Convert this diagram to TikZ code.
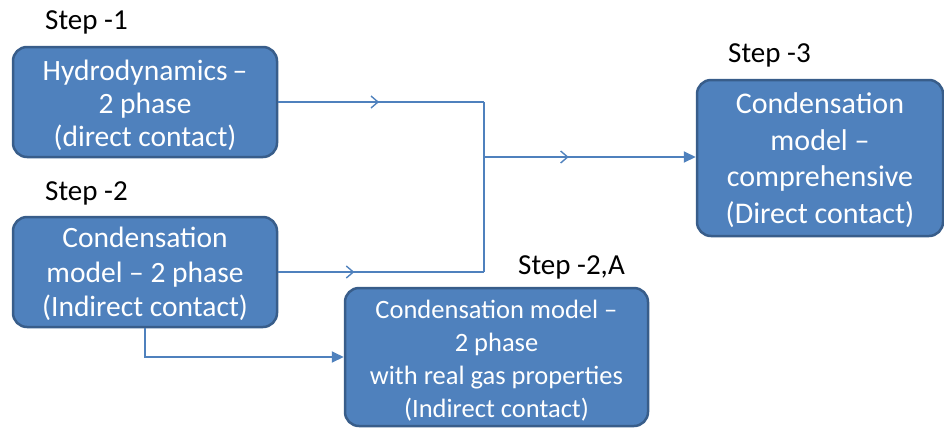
\documentclass[tikz,border=0pt]{standalone}
\usepackage{fontspec}
\setmainfont{Carlito}
\usetikzlibrary{arrows.meta,decorations.markings}
\definecolor{boxfill}{HTML}{4F81BD}
\definecolor{boxedge}{HTML}{385D8A}
\definecolor{linec}{HTML}{4F81BD}
\begin{document}
\begin{tikzpicture}[x=1pt,y=-1pt,
  stepbox/.style={draw=boxedge,line width=2.5pt,fill=boxfill,rounded corners=14pt,text=white,align=center,inner sep=0pt},
  steplabel/.style={anchor=west,font=\fontsize{29}{33}\selectfont,inner sep=0pt},
  conn/.style={draw=linec,line width=2pt},
  midarrow/.style={postaction={decorate},decoration={markings,mark=at position #1 with {\arrow[linec,line width=1.4pt]{Straight Barb[length=7pt,width=12pt]}}}},
  endarrow/.style={-{Triangle[length=12pt,width=11pt]}}]
\useasboundingbox (0,0) rectangle (944,429);
\node[stepbox,minimum width=264pt,minimum height=110pt,font=\fontsize{29.5}{33}\selectfont] (b1) at (145,102) {\rule{0pt}{28pt}Hydrodynamics\,–\\2 phase\\(direct contact)};
\node[stepbox,minimum width=264pt,minimum height=110pt,font=\fontsize{29.5}{34.5}\selectfont] (b2) at (145,272) {\rule{0pt}{25pt}Condensation\\model – 2 phase\\(Indirect contact)};
\node[stepbox,minimum width=246pt,minimum height=156pt,font=\fontsize{30}{36.5}\selectfont] (b3) at (820,158) {\rule{0pt}{25pt}Condensation\\model –\\comprehensive\\(Direct contact)};
\node[stepbox,minimum width=303pt,minimum height=138pt,font=\fontsize{26.5}{33}\selectfont] (b4) at (496.5,357) {\rule{0pt}{26pt}Condensation model –\\2 phase\\with real gas properties\\(Indirect contact)};
\node[steplabel] (l1) at (45,22) {Step -1};
\node[steplabel] (l2) at (45,193) {Step -2};
\node[steplabel] (l3) at (728,55) {Step -3};
\node[steplabel] (l4) at (518,267) {Step -2,A};
\coordinate (j1) at (484,102);
\coordinate (j2) at (484,272);
\coordinate (jm) at (484,157);
\coordinate (c1) at (145,357);
\draw[conn,midarrow=0.49] (b1.east) -- (j1);
\draw[conn,midarrow=0.37] (b2.east) -- (j2);
\draw[conn] (j1) -- (j2);
\draw[conn,midarrow=0.4,endarrow] (jm) -- (b3.west |- jm);
\draw[conn,endarrow] (b2.south) -- (c1) -- (b4.west |- c1);
\end{tikzpicture}
\end{document}
